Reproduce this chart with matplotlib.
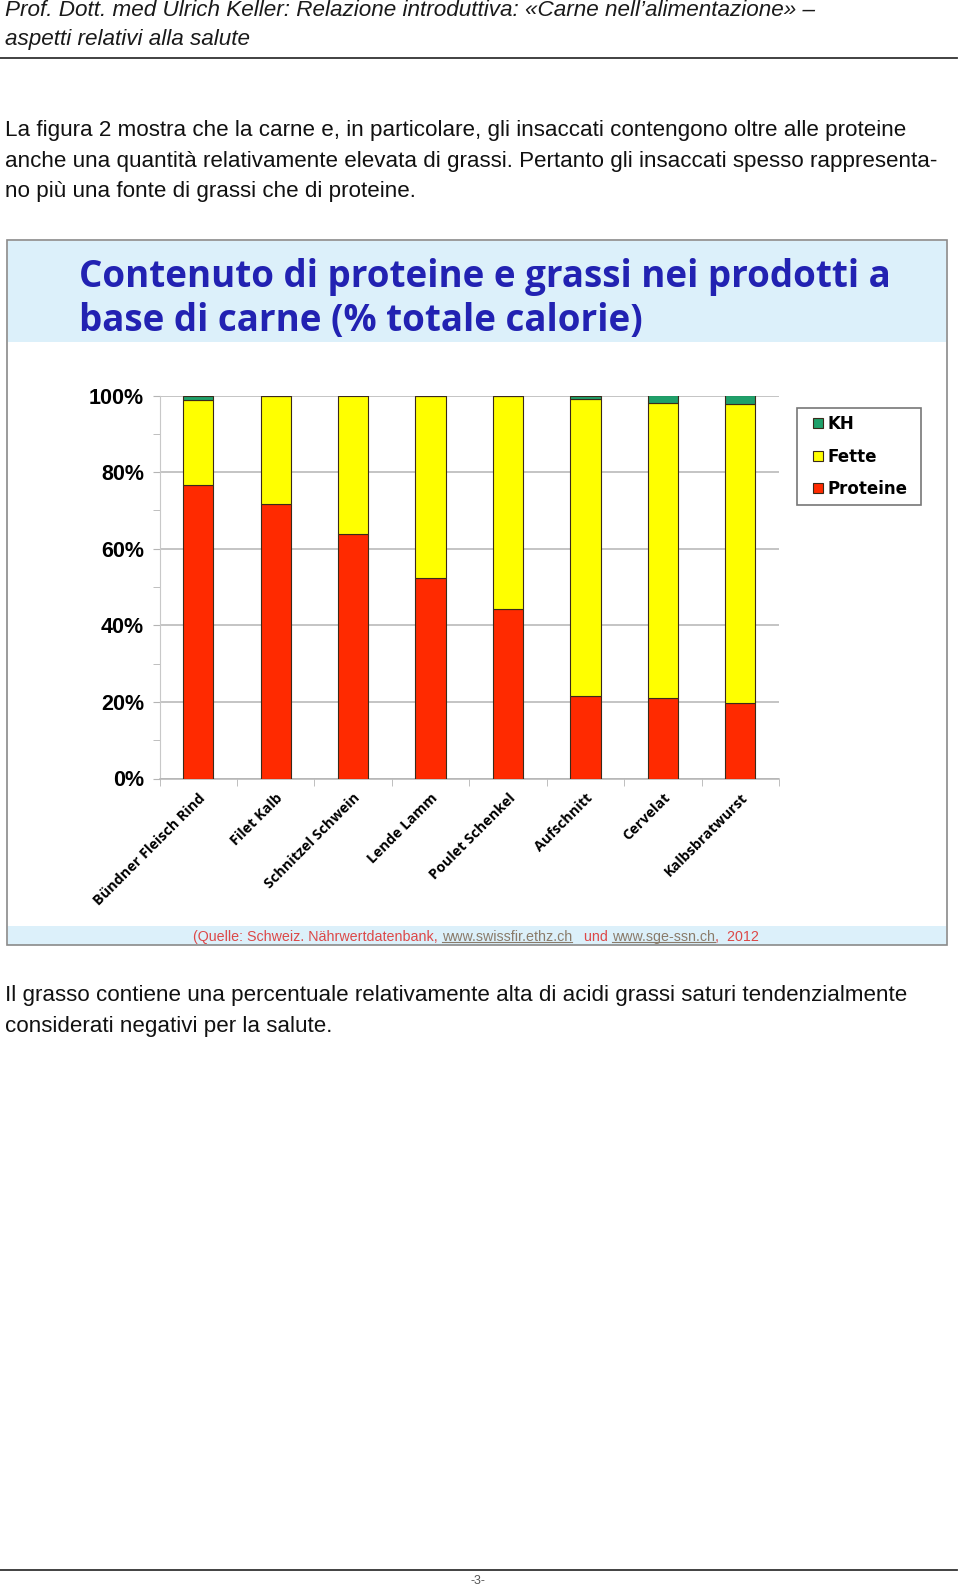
import matplotlib
matplotlib.use("Agg")
import matplotlib.pyplot as plt
from matplotlib.patches import Rectangle
from matplotlib.lines import Line2D
from matplotlib.legend_handler import HandlerPatch
import numpy as np

# ---------------- data ----------------
categories = ["Bündner Fleisch Rind", "Filet Kalb", "Schnitzel Schwein", "Lende Lamm",
              "Poulet Schenkel", "Aufschnitt", "Cervelat", "Kalbsbratwurst"]
proteine = [76.6, 71.7, 63.8, 52.4, 44.2, 21.6, 21.0, 19.7]
fette = [22.2, 28.3, 36.2, 47.6, 55.8, 77.5, 77.0, 78.1]
kh = [1.2, 0.0, 0.0, 0.0, 0.0, 0.9, 2.0, 2.2]
series_names = ["Proteine", "Fette", "KH"]
yticks = [0, 20, 40, 60, 80, 100]
ytick_labels = ["0%", "20%", "40%", "60%", "80%", "100%"]
yticks_minor = [10, 30, 50, 70, 90]

header_lines = ["Prof. Dott. med Ulrich Keller: Relazione introduttiva: «Carne nell\u2019alimentazione» \u2013",
                "aspetti relativi alla salute"]
para1 = ["La figura 2 mostra che la carne e, in particolare, gli insaccati contengono oltre alle proteine",
         "anche una quantità relativamente elevata di grassi. Pertanto gli insaccati spesso rappresenta-",
         "no più una fonte di grassi che di proteine."]
para2 = ["Il grasso contiene una percentuale relativamente alta di acidi grassi saturi tendenzialmente",
         "considerati negativi per la salute."]
chart_title = ["Contenuto di proteine e grassi nei prodotti a",
               "base di carne (% totale calorie)"]
source_parts = [("(Quelle: Schweiz. Nährwertdatenbank, ", False),
                ("www.swissfir.ethz.ch", True),
                ("   und ", False),
                ("www.sge-ssn.ch", True),
                (",  2012", False)]
page_number = "-3-"

# ---------------- figure ----------------
W, H = 960, 1592
fig = plt.figure(figsize=(W / 100, H / 100), dpi=100)
fig.patch.set_facecolor("white")


def fx(x):
    return x / W


def fy(y):
    return 1 - y / H


def rect(x0, y0, x1, y1, **kw):
    r = Rectangle((fx(x0), fy(y1)), (x1 - x0) / W, (y1 - y0) / H,
                  transform=fig.transFigure, **kw)
    fig.add_artist(r)
    return r


def hline(x0, x1, y, **kw):
    fig.add_artist(Line2D([fx(x0), fx(x1)], [fy(y), fy(y)], transform=fig.transFigure, **kw))


body_font = "Liberation Sans"
txt_color = "#111111"

# header
for i, line in enumerate(header_lines):
    fig.text(fx(5), fy(11 + 28.5 * i), line, fontsize=16.2, style="italic",
             family=body_font, color="#1a1a1a", va="center", ha="left")
hline(0, 957, 58, color="#333333", lw=1.3)

# paragraph 1
for i, line in enumerate(para1):
    fig.text(fx(5), fy(130.5 + 30.6 * i), line, fontsize=16.1, family=body_font,
             color=txt_color, va="center", ha="left")

# paragraph 2
for i, line in enumerate(para2):
    fig.text(fx(5), fy(996 + 30.6 * i), line, fontsize=16.1, family=body_font,
             color=txt_color, va="center", ha="left")

# footer
hline(0, 957, 1570, color="#333333", lw=1.3)
fig.text(fx(478), fy(1581), page_number, fontsize=9, family=body_font,
         color="#555555", va="center", ha="center")

# chart frame and bands
rect(8, 241, 946, 342, facecolor="#dcf0fa", edgecolor="none")
rect(8, 926, 946, 945, facecolor="#dcf0fa", edgecolor="none")
rect(7, 240, 947, 945, facecolor="none", edgecolor="#8a8a8a", lw=1.2)

title_color = "#2222b2"
for i, line in enumerate(chart_title):
    fig.text(fx(79), fy(277 + 44 * i), line, fontsize=26.5, fontweight="bold",
             family="Open Sans", color=title_color, va="center", ha="left")

# ---------------- axes ----------------
ax = fig.add_axes([fx(159.5), fy(778.5), (779 - 159.5) / W, (778.5 - 395.5) / H])
ax.set_facecolor("none")
x = np.arange(len(categories))
bw = 0.39
edge = "#3a2a1a"
b1 = ax.bar(x, proteine, width=bw, color="#ff2a00", edgecolor=edge, lw=0.8,
            label=series_names[0], zorder=3)
b2 = ax.bar(x, fette, width=bw, bottom=proteine, color="#ffff00", edgecolor=edge,
            lw=0.8, label=series_names[1], zorder=3)
bottom3 = [p + f for p, f in zip(proteine, fette)]
b3 = ax.bar(x, kh, width=bw, bottom=bottom3, color="#1fa06a", edgecolor=edge,
            lw=0.8, label=series_names[2], zorder=3)

ax.set_xlim(-0.5, len(categories) - 0.5)
ax.set_ylim(0, 100)
ax.set_yticks(yticks)
ax.set_yticklabels(ytick_labels, fontsize=15.5, fontweight="bold", family="Liberation Sans")
ax.set_yticks(yticks_minor, minor=True)
ax.yaxis.grid(True, which="major", color="#b4b4b4", lw=1.1, zorder=0)
ax.tick_params(axis="y", which="both", length=5, color="#b4b4b4", pad=6)

ax.set_xticks(x)
ax.set_xticklabels(categories, rotation=45, ha="right", va="top",
                   rotation_mode="anchor", fontsize=10.4, fontweight="bold", family="Open Sans")
ax.set_xticks(np.arange(-0.5, len(categories), 1.0), minor=True)
ax.tick_params(axis="x", which="major", length=0, pad=9)
ax.tick_params(axis="x", which="minor", length=5, color="#b4b4b4")

for s in ["top", "right"]:
    ax.spines[s].set_visible(False)
ax.spines["left"].set_color("#c8c8c8")
ax.spines["bottom"].set_color("#b4b4b4")
ax.spines["bottom"].set_linewidth(1.1)


# legend with small square markers placed at the right of the handle area
def square_patch(legend, orig_handle, xdescent, ydescent, width, height, fontsize):
    s = 0.6 * fontsize
    return Rectangle((-xdescent + width - s, -ydescent + (height - s) / 2), s, s)


handles = [b3[0], b2[0], b1[0]]
leg = fig.legend(handles, [series_names[2], series_names[1], series_names[0]],
                 loc="upper left",
                 bbox_to_anchor=(fx(797), fy(504), 124 / W, 96 / H),
                 mode="expand", frameon=True, fancybox=False, borderaxespad=0,
                 handlelength=1.1, handleheight=0.7, handletextpad=0.3,
                 labelspacing=0.86, borderpad=0.44,
                 handler_map={Rectangle: HandlerPatch(patch_func=square_patch)},
                 prop={"family": "DejaVu Sans", "weight": "bold", "size": 12})
leg.get_frame().set_edgecolor("#555555")
leg.get_frame().set_linewidth(1.2)

# ---------------- source line ----------------
fig.canvas.draw()
renderer = fig.canvas.get_renderer()
src_red = "#dc4848"
src_link = "#8a7b6a"
parts = []
for txt, link in source_parts:
    t = fig.text(fx(0), fy(937), txt, fontsize=10.3, family=body_font,
                 color=src_link if link else src_red, va="center", ha="left")
    parts.append((t, link))
widths = [t.get_window_extent(renderer).width for t, _ in parts]
total = sum(widths)
xcur = 476 - total / 2
for (t, link), w in zip(parts, widths):
    t.set_x(fx(xcur))
    if link:
        hline(xcur, xcur + w, 942, color=src_link, lw=0.8)
    xcur += w

fig.savefig("out.png", dpi=100)
